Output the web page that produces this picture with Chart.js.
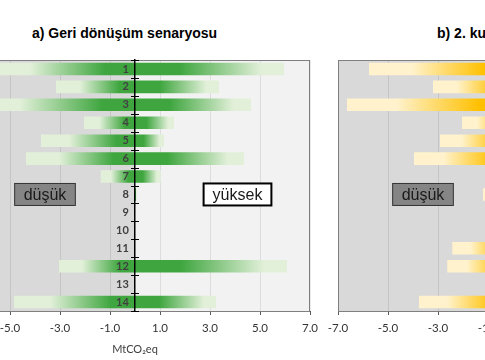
<!DOCTYPE html>
<html lang="tr">
<head>
<meta charset="UTF-8">
<title>Senaryo duyarlılık grafikleri</title>
<style>
    body {
        margin: 0;
        width: 485px;
        height: 360px;
        overflow: hidden;
        position: relative;
        background: #ffffff;
        font-family: "Liberation Sans", Arial, sans-serif;
    }
    .baslik {
        position: absolute;
        top: 25px;
        line-height: 16px;
        font-size: 14px;
        font-weight: bold;
        color: #000;
        white-space: nowrap;
    }
    #baslikA { left: 32px; }
    #baslikB { left: 437px; }
    canvas { position: absolute; top: 0; }
    #grafikA { left: -60px; }
    #grafikB { left: 318px; }
</style>
</head>
<body>
<div class="baslik" id="baslikA">a) Geri dönüşüm senaryosu</div>
<div class="baslik" id="baslikB">b) 2. kuşak biyoyakıt senaryosu</div>
<canvas id="grafikA" width="390" height="360"></canvas>
<canvas id="grafikB" width="390" height="360"></canvas>
<script src="https://cdn.jsdelivr.net/npm/chart.js"></script>
<script>
// veriler
const satirlar = ['1', '2', '3', '4', '5', '6', '7', '8', '9', '10', '11', '12', '13', '14'];
const geriDonusumAlt = [-6.0, -3.16, -6.6, -2.04, -3.76, -4.36, -1.37, -0.04, null, null, null, -3.04, null, -4.84];
const geriDonusumUst = [5.96, 3.36, 4.64, 1.56, 1.16, 4.36, 1.03, 0.07, null, null, null, 6.08, null, 3.24];
const biyoyakitAlt = [-5.76, -3.2, -6.64, -2.04, -2.92, -3.96, -0.9, -1.2, null, null, -2.43, -2.63, null, -3.76];
const biyoyakitUst = [5.2, 2.9, 4.8, 1.5, 1.4, 3.6, 0.9, 0.4, null, null, 1.2, 4.5, null, 2.6];
const xTikler = [-7, -5, -3, -1, 1, 3, 5, 7];

// her çubuk için: uçlarda açık, sıfırda koyu renk
function cubukRengi(acik, koyu) {
    return function(ctx) {
        const chart = ctx.chart;
        const v = ctx.raw;
        if (!chart.chartArea || !v) return koyu;
        const xs = chart.scales.x;
        const pL = xs.getPixelForValue(v[0]);
        const pR = xs.getPixelForValue(v[1]);
        const p0 = xs.getPixelForValue(0);
        if (pR - pL < 2) return koyu;
        const f = Math.min(Math.max((p0 - pL) / (pR - pL), 0), 1);
        const g = chart.ctx.createLinearGradient(pL, 0, pR, 0);
        g.addColorStop(0, acik);
        g.addColorStop(f * 0.3, acik);
        g.addColorStop(f * 0.8, koyu);
        g.addColorStop(f, koyu);
        g.addColorStop(f + (1 - f) * 0.3, koyu);
        g.addColorStop(f + (1 - f) * 0.85, acik);
        g.addColorStop(1, acik);
        return g;
    };
}

// arka plan, çerçeve, eksen çentikleri ve düşük/yüksek kutuları
const suslemeler = {
    id: 'suslemeler',
    beforeDraw(chart) {
        const {ctx, chartArea: a} = chart;
        const p0 = chart.scales.x.getPixelForValue(0);
        ctx.save();
        ctx.fillStyle = '#d9d9d9';
        ctx.fillRect(a.left, a.top, p0 - a.left, a.bottom - a.top);
        ctx.fillStyle = '#f2f2f2';
        ctx.fillRect(p0, a.top, a.right - p0, a.bottom - a.top);
        ctx.restore();
    },
    afterDraw(chart) {
        const {ctx, chartArea: a} = chart;
        const xs = chart.scales.x, ys = chart.scales.y;
        const p0 = xs.getPixelForValue(0);
        ctx.save();
        // çerçeve
        ctx.strokeStyle = '#7f7f7f';
        ctx.lineWidth = 1;
        ctx.strokeRect(a.left + 0.5, a.top + 0.5, a.right - a.left - 1, a.bottom - a.top);
        // sıfır eksenindeki çentikler
        ctx.strokeStyle = '#000';
        ctx.beginPath();
        for (let i = 0; i <= satirlar.length; i++) {
            const y = Math.round(ys.getPixelForValue(i - 0.5)) + 0.5;
            ctx.moveTo(p0 - 4, y);
            ctx.lineTo(p0 + 4, y);
        }
        ctx.stroke();
        // kutular
        ctx.font = '16px "Liberation Sans", Arial, sans-serif';
        ctx.textAlign = 'center';
        ctx.textBaseline = 'middle';
        const yk = ys.getPixelForValue(7);
        [
            {metin: 'düşük', x: -3.6, dolgu: '#858585', kenar: '#333', kalinlik: 1},
            {metin: 'yüksek', x: 4.1, dolgu: '#ffffff', kenar: '#000', kalinlik: 2}
        ].forEach(k => {
            const cx = xs.getPixelForValue(k.x);
            const w = ctx.measureText(k.metin).width + 18;
            const h = 22;
            ctx.fillStyle = k.dolgu;
            ctx.fillRect(cx - w / 2, yk - h / 2, w, h);
            ctx.lineWidth = k.kalinlik;
            ctx.strokeStyle = k.kenar;
            ctx.strokeRect(cx - w / 2, yk - h / 2, w, h);
            ctx.fillStyle = '#1a1a1a';
            ctx.fillText(k.metin, cx, yk + 1);
        });
        ctx.restore();
    }
};

function grafikKur(id, alt, ust, acik, koyu) {
    const veri = alt.map((v, i) => (v === null ? null : [v, ust[i]]));
    return new Chart(document.getElementById(id), {
        type: 'bar',
        data: {
            labels: satirlar,
            datasets: [{
                data: veri,
                backgroundColor: cubukRengi(acik, koyu),
                borderWidth: 0,
                barPercentage: 0.7,
                categoryPercentage: 1.0
            }]
        },
        options: {
            indexAxis: 'y',
            responsive: false,
            animation: false,
            layout: { padding: { left: 20, right: 20, top: 60, bottom: 4 } },
            plugins: {
                legend: { display: false },
                tooltip: { enabled: false }
            },
            scales: {
                x: {
                    type: 'linear',
                    min: -7,
                    max: 7,
                    afterBuildTicks: s => { s.ticks = xTikler.map(v => ({ value: v })); },
                    grid: {
                        color: 'rgba(0,0,0,0.09)',
                        tickColor: '#595959',
                        tickLength: 4
                    },
                    border: { color: '#595959', width: 1 },
                    ticks: {
                        padding: 6,
                        color: '#333',
                        font: { family: 'Lato', size: 11.5 },
                        callback: v => v.toFixed(1)
                    },
                    title: {
                        display: true,
                        text: 'MtCO₂eq',
                        color: '#404040',
                        font: { family: 'Lato', size: 11 },
                        padding: { top: 2, bottom: 0 }
                    }
                },
                y: {
                    position: { x: 0 },
                    grid: { display: false, drawTicks: false },
                    border: { color: '#000', width: 1.5, z: 1 },
                    ticks: {
                        z: 1,
                        color: '#404040',
                        font: { family: 'Lato', size: 11, weight: 'bold' },
                        // eksen ortada olduğu için etiketle çizgi arasına boşluk
                        callback: (v, i) => satirlar[i] + '\u2002\u200A'
                    }
                }
            }
        },
        plugins: [suslemeler]
    });
}

grafikKur('grafikA', geriDonusumAlt, geriDonusumUst, '#e2f0d9', '#3fa63f');
grafikKur('grafikB', biyoyakitAlt, biyoyakitUst, '#fff2cc', '#ffc000');
</script>
</body>
</html>
